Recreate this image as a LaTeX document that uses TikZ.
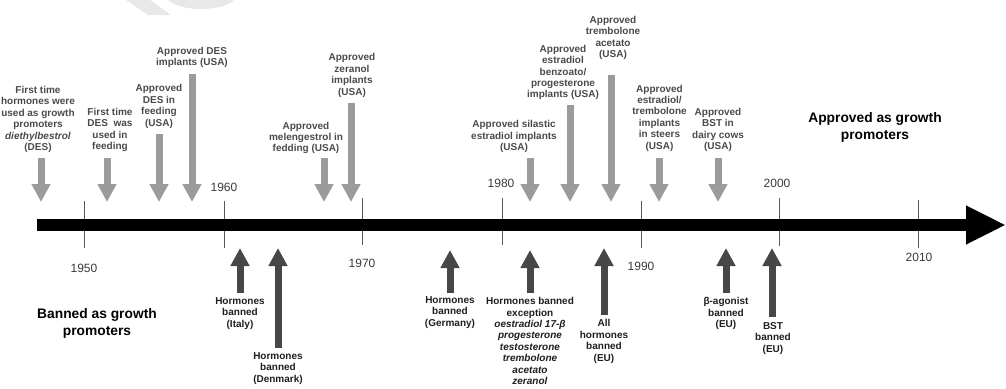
\documentclass[tikz,border=0pt]{standalone}
\usepackage{fontspec}
\setmainfont{Liberation Sans}
\usetikzlibrary{arrows.meta}
\definecolor{upc}{HTML}{9B9B9B}
\definecolor{dnc}{HTML}{474747}
\definecolor{uptext}{HTML}{4A4A4A}
\definecolor{dntext}{HTML}{1E1E1E}
\definecolor{yeartext}{HTML}{3A3A3A}
\definecolor{wm}{HTML}{E8E8E8}
\begin{document}
\begin{tikzpicture}[x=1pt,y=-1pt,
  lbl/.style={font=\fontsize{10}{11.4}\selectfont\bfseries, align=center, inner sep=0pt},
  uplbl/.style={lbl, text=uptext},
  dnlbl/.style={lbl, text=dntext},
  yr/.style={font=\fontsize{12}{14}\selectfont, text=yeartext, inner sep=0pt},
  big/.style={font=\fontsize{13.8}{17}\selectfont\bfseries, align=center, inner sep=0pt, text=black},
  tickline/.style={draw=black!65, line width=0.7pt},
  apparr/.style={draw=upc, line width=7pt, -{Triangle[width=18pt,length=18pt]}},
  banarr/.style={draw=dnc, line width=7pt, -{Triangle[width=18pt,length=18pt]}},
  mainbar/.style={draw=black, line width=12pt, -{Triangle[width=36pt,length=40pt]}},
]
\useasboundingbox (0,0) rectangle (1006,388);

% faint watermark fragment
\fill[wm] (126,0) -- (148,15) -- (171,15) -- (150,0) -- cycle;
\fill[wm] (168,0) .. controls (180,12) and (222,12) .. (234,0) -- cycle;

% ticks
\foreach \n/\x/\t/\b in {t1950/84/201/248, t1960/224/201/248, t1970/362/198/245, t1980/502/198/245, t1990/641/201/248, t2000/779/198/246, t2010/918/200/248}{
  \coordinate (\n a) at (\x,\t);
  \coordinate (\n b) at (\x,\b);
  \draw[tickline] (\n a) -- (\n b);
}

% main time bar
\coordinate (bs) at (37,225);
\coordinate (be) at (1006,225);
\draw[mainbar] (bs) -- (be);

% year labels
\node[yr] (y1950) at (84,268) {1950};
\node[yr] (y1960) at (224,187) {1960};
\node[yr] (y1970) at (362,263) {1970};
\node[yr] (y1980) at (501,183) {1980};
\node[yr] (y1990) at (641,266) {1990};
\node[yr] (y2000) at (777,183) {2000};
\node[yr] (y2010) at (919,257) {2010};

% approved (down) arrows
\foreach \n/\x/\t in {a1/41/158, a2/107/158, a3/159/134, a4/192/74, a5/324/158, a6/351/103, a7/530/158, a8/570/105, a9/611/75, a10/659/158, a11/718/158}{
  \coordinate (\n s) at (\x,\t);
  \coordinate (\n e) at (\x,202);
  \draw[apparr] (\n s) -- (\n e);
}

\node[uplbl] (l1) at (38,119.5) {First time\\hormones were\\used as growth\\promoters\\\textit{diethylbestrol}\\(DES)};
\node[uplbl] (l2) at (110,130) {First time\\DES\ \ was\\used in\\feeding};
\node[uplbl] (l3) at (159,106.5) {Approved\\DES in\\feeding\\(USA)};
\node[uplbl] (l4) at (192,57.5) {Approved DES\\implants (USA)};
\node[uplbl] (l5) at (306,138) {Approved\\melengestrol in\\fedding (USA)};
\node[uplbl] (l6) at (352,75.5) {Approved\\zeranol\\implants\\(USA)};
\node[uplbl] (l7) at (514,136.5) {Approved silastic\\estradiol implants\\(USA)};
\node[uplbl] (l8) at (563,72.5) {Approved\\estradiol\\benzoato/\\progesterone\\implants (USA)};
\node[uplbl] (l9) at (613,38) {Approved\\trembolone\\acetato\\(USA)};
\node[uplbl] (l10) at (659.5,118) {Approved\\estradiol/\\trembolone\\implants\\in steers\\(USA)};
\node[uplbl] (l11) at (718,130) {Approved\\BST in\\dairy cows\\(USA)};

\node[big] (appr) at (875,127.5) {Approved as growth\\promoters};
\node[big] (bann) at (97,323.5) {Banned as growth\\promoters};

% banned (up) arrows
\foreach \n/\x/\b/\t in {b1/240/293/248, b2/278/348/248, b3/450/293/250, b4/530/293/250, b5/604/315/248, b6/726/293/248, b7/772/317/248}{
  \coordinate (\n s) at (\x,\b);
  \coordinate (\n e) at (\x,\t);
  \draw[banarr] (\n s) -- (\n e);
}

\node[dnlbl] (m1) at (240,313.5) {Hormones\\banned\\(Italy)};
\node[dnlbl] (m2) at (278,368.5) {Hormones\\banned\\(Denmark)};
\node[dnlbl] (m3) at (450,312.5) {Hormones\\banned\\(Germany)};
\node[dnlbl] (m4) at (530,341) {Hormones banned\\exception\\\textit{oestradiol 17-β}\\\textit{progesterone}\\\textit{testosterone}\\\textit{trembolone}\\\textit{acetato}\\\textit{zeranol}};
\node[dnlbl] (m5) at (604,341.5) {All\\hormones\\banned\\(EU)};
\node[dnlbl] (m6) at (726,313.5) {β-agonist\\banned\\(EU)};
\node[dnlbl] (m7) at (773,338.5) {BST\\banned\\(EU)};
\end{tikzpicture}
\end{document}
